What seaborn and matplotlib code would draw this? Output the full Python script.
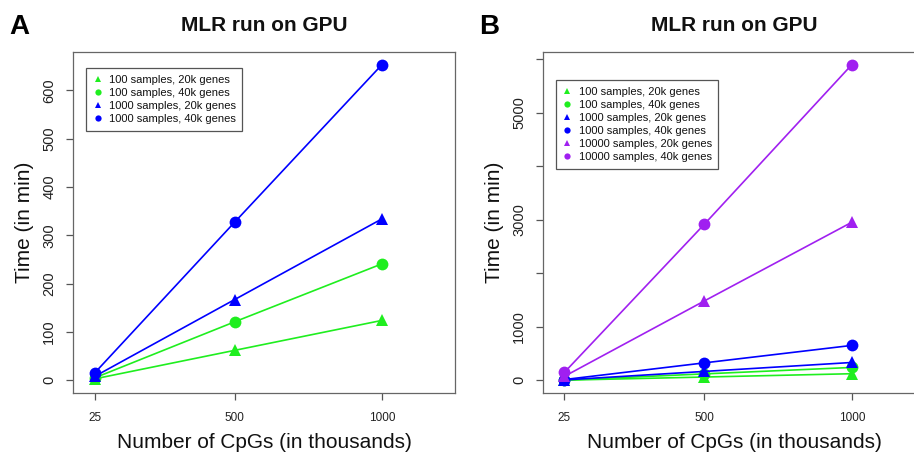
import matplotlib
matplotlib.use("Agg")
import matplotlib.pyplot as plt
from matplotlib.lines import Line2D
import pandas as pd
import seaborn as sns

sns.set_style("ticks")
plt.rcParams['font.family'] = ['Liberation Sans', 'DejaVu Sans']
plt.rcParams['text.color'] = '#111111'
plt.rcParams['axes.labelcolor'] = '#111111'

# data (time in minutes)
cpgs = [25, 500, 1000]
s100_20k = [3, 62, 124]
s100_40k = [5, 121, 241]
s1000_20k = [8, 167, 334]
s1000_40k = [15, 327, 653]
s10000_20k = [75, 1485, 2955]
s10000_40k = [150, 2920, 5900]

names = ["100 samples, 20k genes", "100 samples, 40k genes",
         "1000 samples, 20k genes", "1000 samples, 40k genes",
         "10000 samples, 20k genes", "10000 samples, 40k genes"]
values = [s100_20k, s100_40k, s1000_20k, s1000_40k, s10000_20k, s10000_40k]

green = "#1fee1f"
blue = "#0000ff"
purple = "#a020f0"
colors = [green, green, blue, blue, purple, purple]
marks = ["^", "o", "^", "o", "^", "o"]

fig = plt.figure(figsize=(9.14, 4.53), dpi=100)
axA = fig.add_axes([0.0799, 0.1325, 0.418, 0.7527])
axB = fig.add_axes([0.594, 0.1325, 0.418, 0.7527])


def draw_panel(ax, n, letter, yticks, ylabels, legend_y):
    for i in range(n):
        df = pd.DataFrame({"cpgs": cpgs, "time": values[i]})
        sns.lineplot(data=df, x="cpgs", y="time", ax=ax, color=colors[i],
                     marker=marks[i], markersize=9 if marks[i] == "^" else 8.5,
                     markeredgewidth=0, linewidth=1.2, legend=False)
    ymax = max(max(v) for v in values[:n])
    ax.set_xlim(-48, 1248)
    ax.set_ylim(-0.04 * ymax, 1.04 * ymax)
    ax.set_xticks(cpgs)
    ax.set_xticklabels([str(c) for c in cpgs], fontsize=8.5)
    ax.set_yticks(yticks)
    ax.set_yticklabels(ylabels, fontsize=10.5, rotation=90, va="center")
    ax.tick_params(axis="both", direction="out", length=5, width=0.9,
                   color="#555555", labelcolor="#222222", pad=7)
    ax.tick_params(axis="x", pad=9)
    for sp in ax.spines.values():
        sp.set_visible(True)
        sp.set_color("#666666")
        sp.set_linewidth(0.9)
    ax.set_xlabel("Number of CpGs (in thousands)", fontsize=15, labelpad=6)
    ax.set_ylabel("Time (in min)", fontsize=15, labelpad=6)
    ax.set_title("MLR run on GPU", fontsize=15, fontweight="bold", pad=15)
    ax.text(-0.168, 1.035, letter, transform=ax.transAxes, fontsize=20,
            fontweight="bold", va="bottom", ha="left", color="black")

    handles = [Line2D([], [], linestyle="none", marker=marks[i],
                      color=colors[i], markersize=4.5, markeredgewidth=0)
               for i in range(n)]
    leg = ax.legend(handles, names[:n], loc="upper left",
                    bbox_to_anchor=(0.035, legend_y), fontsize=8,
                    frameon=True, fancybox=False, framealpha=1,
                    edgecolor="#555555", handlelength=0.8, handletextpad=0.6,
                    labelspacing=0.28, borderpad=0.6, borderaxespad=0)
    leg.get_frame().set_linewidth(0.9)


draw_panel(axA, 4, "A", [0, 100, 200, 300, 400, 500, 600],
           ["0", "100", "200", "300", "400", "500", "600"], 0.953)
draw_panel(axB, 6, "B", [0, 1000, 2000, 3000, 4000, 5000, 6000],
           ["0", "1000", "", "3000", "", "5000", ""], 0.918)

fig.savefig("out.png", dpi=100)
